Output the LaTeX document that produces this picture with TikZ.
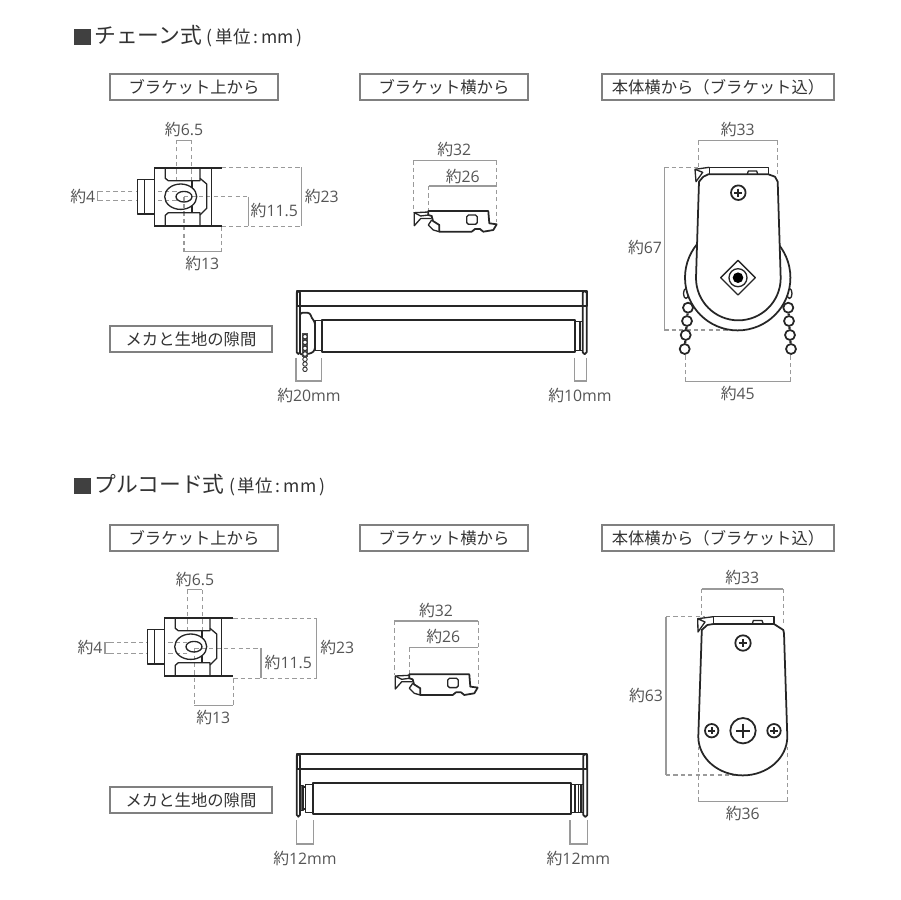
\documentclass[tikz,border=0pt]{standalone}
\usepackage{fontspec}
\setmainfont{Open Sans}
\newfontfamily\jpfont{Noto Sans CJK JP}
\usetikzlibrary{positioning}
\definecolor{boxgray}{HTML}{808080}
\definecolor{dimgray}{HTML}{9A9A9A}
\definecolor{textgray}{HTML}{555555}
\newcommand{\yaku}{{\jpfont 約}}
\newcommand{\unitnote}{{\fontsize{10}{10}\selectfont\hspace{2.5pt}(\,単位\,:\,mm\,)}}
\tikzstyle{part} = [draw=black!85, line width=0.75pt, line join=round]
\tikzstyle{heavy} = [draw=black!85, line width=1.3pt]
\tikzstyle{dimline} = [draw=dimgray, line width=0.6pt]
\tikzstyle{dimdash} = [draw=dimgray, line width=0.6pt, dash pattern=on 2.4pt off 1.8pt]
\tikzstyle{dimlabel} = [text=textgray, inner sep=0pt, font=\fontsize{9}{9}\selectfont]
\tikzstyle{tabbox} = [rectangle, draw=boxgray, line width=1pt, fill=white, text=black!80, inner sep=0pt, minimum height=0.52cm, font=\jpfont\fontsize{9.3}{10}\selectfont]
\tikzstyle{headline} = [anchor=west, inner sep=0pt, text=black!80, font=\jpfont\fontsize{12.4}{13}\selectfont]
\tikzstyle{bead} = [part, fill=white, circle, inner sep=0pt]

% bracket seen from above, #1 = right end of the flanges
\newcommand{\bracketTop}[1]{
	\draw [part, fill=white] (137.7,179.3) rectangle (154.3,214);
	\draw [part] (144.3,179.3) -- (144.3,214);
	\draw [heavy] (154.3,168.3) -- (#1,168.3);
	\draw [heavy] (154.3,225.7) -- (#1,225.7);
	\draw [part] (154.3,168.3) -- (154.3,225.7);
	\draw [part] (211.7,168.3) -- (211.7,225.7);
	\draw [part] (165.3,168.3) -- (165.3,178.3) -- (168.3,180.7) -- (200,180.7) -- (200,168.3);
	\draw [part] (165.3,225.7) -- (165.3,215.3) -- (168.3,212.7) -- (200,212.7) -- (200,225.7);
	\draw [part] (200,178.3) -- (206.7,184) -- (206.7,208.3) -- (200,215);
	\draw [part] (192,180.7) -- (192,187.5);
	\draw [part] (192,212.7) -- (192,206);
	\draw [part] (180.7,196.7) ellipse [x radius=16, y radius=12.7];
	\draw [part] (184,196.7) ellipse [x radius=8, y radius=5.3];
}
% bracket seen from the side
\newcommand{\bracketSide}{
	\draw [part, line width=1pt] (428.3,211) -- (488.3,211) -- (489.3,223.3) -- (496.7,224.3) -- (493.3,230) -- (483.3,231.7) -- (480,229) -- (475,229) -- (471.7,231.7) -- (439.3,231.7) -- (439.3,225) -- (433,221) -- (431.7,216) -- (428.3,215) -- cycle;
	\draw [part] (428.3,212) -- (414.3,212.7) -- (414.3,225.7) -- (420.7,218.5) -- (431.7,218.5);
	\draw [part] (414.3,212.7) -- (420.7,216) -- (428.3,215);
	\draw [part] (431.7,220) -- (428.3,225) -- (433.3,230) -- (439.3,231.7);
	\draw [part, rounded corners=1pt] (466.7,215) rectangle (477.3,224.3);
}
% screw head with a cross
\newcommand{\screwHead}[3]{
	\draw [part, fill=white, line width=1pt] (#1,#2) circle [radius=#3];
	\draw [part, line width=1pt] (#1-#3*0.55,#2) -- (#1+#3*0.55,#2);
	\draw [part, line width=1pt] (#1,#2-#3*0.55) -- (#1,#2+#3*0.55);
}

\begin{document}
\begin{tikzpicture}[x=0.02cm, y=-0.02cm]
	\useasboundingbox (0,0) rectangle (900,900);

	% Headlines
	\fill [black!75] (74,29) rectangle (91,45);
	\node [headline] (title1) at (94,36) {チェーン式\unitnote};
	\fill [black!75] (74,478) rectangle (91,494);
	\node [headline] (title2) at (94,485) {プルコード式\unitnote};

	% Tabs
	\node [tabbox, minimum width=3.36cm] (tabA1) at (194,87) {ブラケット上から};
	\node [tabbox, minimum width=3.36cm] (tabB1) at (444,87) {ブラケット横から};
	\node [tabbox, minimum width=4.64cm] (tabC1) at (718,87) {本体横から（ブラケット込）};
	\node [tabbox, minimum width=3.24cm] (tabD1) at (191,339) {メカと生地の隙間};
	\node [tabbox, minimum width=3.36cm] (tabA2) at (194,538) {ブラケット上から};
	\node [tabbox, minimum width=3.36cm] (tabB2) at (444,538) {ブラケット横から};
	\node [tabbox, minimum width=4.64cm] (tabC2) at (718,538) {本体横から（ブラケット込）};
	\node [tabbox, minimum width=3.24cm] (tabD2) at (191,800) {メカと生地の隙間};

	% Chain type: bracket from above
	\draw [dimdash] (176.7,181) -- (176.7,140.3);
	\draw [dimdash] (191.3,181) -- (191.3,140.3);
	\draw [dimline] (176.7,140.3) -- (191.3,140.3);
	\draw [dimdash] (176.7,191.3) -- (97.3,191.3);
	\draw [dimdash] (176.7,200.7) -- (97.3,200.7);
	\draw [dimline] (101,191.3) -- (97.3,191.3) -- (97.3,200.7) -- (101,200.7);
	\draw [dimdash] (221.7,167.3) -- (301.7,167.3);
	\draw [dimdash] (221.7,226.3) -- (301.7,226.3);
	\draw [dimline] (301.7,167.3) -- (301.7,226.3);
	\draw [dimdash] (184,196.7) -- (248.3,196.7);
	\draw [dimline] (248.3,196.7) -- (248.3,226.3);
	\draw [dimdash] (184,196.7) -- (184,251.7);
	\draw [dimdash] (221.7,226.3) -- (221.7,251.7);
	\draw [dimline] (184,251.7) -- (221.7,251.7);
	\bracketTop{221.7}
	\node [dimlabel] (d65a) at (184,129.3) {\yaku 6.5};
	\node [dimlabel] (d4a) at (82.7,196) {\yaku 4};
	\node [dimlabel] (d23a) at (321.7,196.7) {\yaku 23};
	\node [dimlabel] (d115a) at (274.3,210.7) {\yaku 11.5};
	\node [dimlabel] (d13a) at (202.3,263.3) {\yaku 13};

	% Chain type: bracket from the side
	\draw [dimdash] (413.3,160.3) -- (413.3,212);
	\draw [dimdash] (428.7,186) -- (428.7,211);
	\draw [dimdash] (496.7,160.3) -- (496.7,222);
	\draw [dimline] (413.3,160.3) -- (496.7,160.3);
	\draw [dimline] (428.7,186) -- (496.7,186);
	\bracketSide
	\node [dimlabel] (d32a) at (454.3,149.3) {\yaku 32};
	\node [dimlabel] (d26a) at (462.7,176) {\yaku 26};

	% Chain type: body from the side
	\draw [dimline] (698.3,140.7) -- (777.7,140.7);
	\draw [dimdash] (698.3,140.7) -- (698.3,170);
	\draw [dimdash] (777.7,140.7) -- (777.7,174);
	\draw [dimline] (664.3,167.3) -- (664.3,330);
	\draw [dimdash] (664.3,167.3) -- (700,167.3);
	\draw [dimdash] (664.3,330) -- (735,330);
	\draw [dimline] (685.3,381.7) -- (790.3,381.7);
	\draw [dimdash] (685.3,381.7) -- (685.3,353);
	\draw [dimdash] (790.3,381.7) -- (790.3,353);
	\draw [part] (686,293.5) ellipse [x radius=2.5, y radius=5];
	\draw [part] (789.5,293.5) ellipse [x radius=2.5, y radius=5];
	\draw [part, line width=1pt, fill=white] (737.7,277.7) circle [radius=52.7];
	\foreach \bx/\by/\bname in {688/307.7/l1, 687/321/l2, 685.7/335/l3, 684.7/349/l4, 788.3/307.7/r1, 789/321/r2, 790/335/r3, 791/349/r4}
		\node [bead, line width=1pt, minimum size=0.2cm] (\bname) at (\bx,\by) {};
	\draw [heavy] (l1) -- (l2) -- (l3) -- (l4);
	\draw [heavy] (r1) -- (r2) -- (r3) -- (r4);
	\draw [part, fill=white] (709.3,167.3) rectangle (768.3,174.3);
	\draw [part] (747.3,174.3) -- (748.3,171) -- (756.7,171) -- (757.7,174.3);
	\draw [part, fill=white] (695,169.3) -- (702.7,172.3) -- (696,181.7) -- cycle;
	\draw [part] (695,169.3) -- (709.3,167.3);
	\draw [part, fill=white, line width=1pt] (699,181.7) -- (703.3,176.7) -- (708.3,174.3) -- (768.3,174.3) -- (775,176.7) -- (777.7,181.7) -- (780.7,278) arc [start angle=0, end angle=180, radius=42.35] -- cycle;
	\screwHead{738.3}{192.7}{7.3}
	\draw [part, fill=white] (738,260.4) -- (755.3,277.7) -- (738,295) -- (720.7,277.7) -- cycle;
	\draw [part, fill=white] (738,277.7) circle [radius=9];
	\fill [black] (738,277.7) circle [radius=5.3];
	\node [dimlabel] (d33a) at (737.7,129) {\yaku 33};
	\node [dimlabel] (d67a) at (645,247.3) {\yaku 67};
	\node [dimlabel] (d45a) at (737.7,393.3) {\yaku 45};

	% Chain type: clearance
	\draw [part, line width=1pt] (296.7,291) rectangle (586.7,305.7);
	\draw [part, line width=1pt, rounded corners=1pt] (296.7,291) rectangle (300,354);
	\draw [part, line width=1pt, rounded corners=1pt] (582.7,291) rectangle (586.7,354);
	\draw [part, line width=1pt] (321.7,320) rectangle (575,351.7);
	\draw [part] (315,320.7) rectangle (321.7,350.7);
	\draw [part] (575,321.7) rectangle (582.7,350.7);
	\draw [part] (580,321.7) -- (580,350.7);
	\draw [part, line width=1pt, fill=white, rounded corners=1.5pt] (300,312.7) -- (310,312.7) -- (311.7,318.3) -- (315,321.7) -- (315,350) -- (311.7,353.3) -- (300,355) -- cycle;
	\fill [black!70] (301.7,333.3) rectangle (308.3,357.3);
	\foreach \cy/\cname in {336.7/c1, 342.3/c2, 348.3/c3, 354/c4, 359.3/c5, 364/c6, 369.3/c7}
		\node [bead, minimum size=0.09cm, line width=0.5pt] (\cname) at (305,\cy) {};
	\draw [dimline] (296,357.7) -- (296,381) -- (321.7,381) -- (321.7,357.7);
	\draw [dimline] (574.3,357.7) -- (574.3,381) -- (586.7,381) -- (586.7,357.7);
	\node [dimlabel] (d20) at (309,395) {\yaku 20mm};
	\node [dimlabel] (d10) at (580,395) {\yaku 10mm};

	% Cord type: bracket from above
	\draw [dimdash] (187.3,631) -- (187.3,589.3);
	\draw [dimdash] (202.3,631) -- (202.3,589.3);
	\draw [dimline] (187.3,589.3) -- (202.3,589.3);
	\draw [dimdash] (187.3,642.7) -- (105,642.7);
	\draw [dimdash] (187.3,653.3) -- (105,653.3);
	\draw [dimline] (109,642.7) -- (105,642.7) -- (105,653.3) -- (109,653.3);
	\draw [dimdash] (233.3,618.3) -- (316.7,618.3);
	\draw [dimdash] (233.3,678.3) -- (316.7,678.3);
	\draw [dimline] (316.7,618.3) -- (316.7,678.3);
	\draw [dimdash] (194.3,648.3) -- (261,648.3);
	\draw [dimline] (261,648.3) -- (261,678.3);
	\draw [dimdash] (194.3,648.3) -- (194.3,705.7);
	\draw [dimdash] (233.3,678.3) -- (233.3,705.7);
	\draw [dimline] (194.3,705.7) -- (233.3,705.7);
	\begin{scope}[shift={(10,450)}]
		\bracketTop{223.3}
	\end{scope}
	\node [dimlabel] (d65b) at (195,579.3) {\yaku 6.5};
	\node [dimlabel] (d4b) at (90,647.7) {\yaku 4};
	\node [dimlabel] (d23b) at (337.3,647.7) {\yaku 23};
	\node [dimlabel] (d115b) at (288.3,662.7) {\yaku 11.5};
	\node [dimlabel] (d13b) at (213.3,717.7) {\yaku 13};

	% Cord type: bracket from the side
	\draw [dimdash] (394.3,621) -- (394.3,675);
	\draw [dimdash] (409.3,647.7) -- (409.3,674);
	\draw [dimdash] (478.3,621) -- (478.3,685);
	\draw [dimline] (394.3,621) -- (478.3,621);
	\draw [dimline] (409.3,647.7) -- (478.3,647.7);
	\begin{scope}[shift={(-19,463.3)}]
		\bracketSide
	\end{scope}
	\node [dimlabel] (d32b) at (436,610) {\yaku 32};
	\node [dimlabel] (d26b) at (443.3,636.7) {\yaku 26};

	% Cord type: body from the side
	\draw [dimline] (701.7,589) -- (783.3,589);
	\draw [dimdash] (701.7,589) -- (701.7,620);
	\draw [dimdash] (783.3,589) -- (783.3,623);
	\draw [dimline] (666,616.7) -- (666,775);
	\draw [dimdash] (666,616.7) -- (705,616.7);
	\draw [dimdash] (666,775) -- (735,775);
	\draw [dimline] (698.7,801.7) -- (787.3,801.7);
	\draw [dimdash] (698.7,801.7) -- (698.7,746.7);
	\draw [dimdash] (787.3,801.7) -- (787.3,746.7);
	\draw [part, fill=white] (713.3,616.7) rectangle (774,624);
	\draw [part] (752.3,624) -- (753.3,620.5) -- (762,620.5) -- (763.3,624);
	\draw [part, fill=white] (697.7,618.7) -- (705,622) -- (698,632) -- cycle;
	\draw [part] (697.7,618.7) -- (713.3,616.7);
	\draw [part, fill=white, line width=1pt] (701.7,633.3) -- (701.7,630) -- (707.3,625) -- (713.3,624) -- (774,624) -- (783.3,630) -- (784,633.3) -- (787.3,736.7) arc [start angle=0, end angle=180, x radius=44.5, y radius=38.7] -- cycle;
	\screwHead{743}{643}{7.7}
	\screwHead{743}{730.7}{12.7}
	\screwHead{711.7}{730.7}{6.7}
	\screwHead{774}{730.7}{6.7}
	\node [dimlabel] (d33b) at (742.3,577.7) {\yaku 33};
	\node [dimlabel] (d63b) at (646,695) {\yaku 63};
	\node [dimlabel] (d36b) at (742.7,813.3) {\yaku 36};

	% Cord type: clearance
	\draw [part, line width=1pt] (296.7,754) rectangle (587.3,769);
	\draw [part, line width=1pt, rounded corners=1pt] (296.7,754) rectangle (300,816.7);
	\draw [part, line width=1pt, rounded corners=1pt] (583.3,754) rectangle (587.3,816.7);
	\draw [part, line width=1pt] (313.3,782.7) rectangle (570.7,814.3);
	\draw [part] (305.7,784.3) rectangle (313.3,812.7);
	\draw [part, fill=black!60] (300,785.7) rectangle (303,810.7);
	\draw [part] (303,787) -- (305.7,787);
	\draw [part] (303,809) -- (305.7,809);
	\draw [part] (570.7,784.3) rectangle (583.3,812.7);
	\foreach \rx in {575,578.3,581}
		\draw [part] (\rx,784.3) -- (\rx,812.7);
	\draw [dimline] (296.7,820) -- (296.7,844) -- (313.3,844) -- (313.3,820);
	\draw [dimline] (570,820) -- (570,844) -- (587.3,844) -- (587.3,820);
	\node [dimlabel] (d12a) at (305,858.3) {\yaku 12mm};
	\node [dimlabel] (d12b) at (578.3,858.3) {\yaku 12mm};
\end{tikzpicture}
\end{document}
